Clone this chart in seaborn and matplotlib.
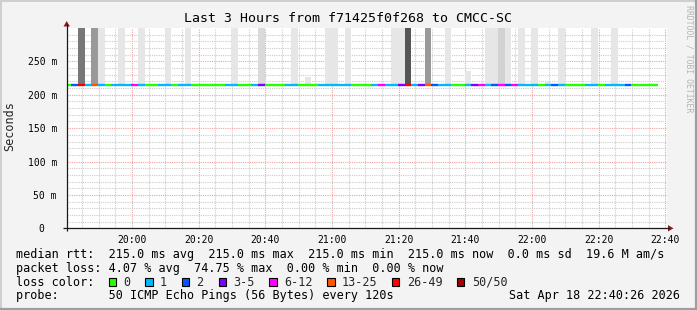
import numpy as np
import pandas as pd
import matplotlib
matplotlib.use("Agg")
import matplotlib.pyplot as plt
import seaborn as sns
from matplotlib.lines import Line2D
from matplotlib.patches import Polygon, Rectangle

# ---------------- data ----------------
title = "Last 3 Hours from f71425f0f268 to CMCC-SC"
y_label = "Seconds"
side_text = "RRDTOOL / TOBI OETIKER"
x_tick_minutes = [20, 40, 60, 80, 100, 120, 140, 160, 180]   # minutes after 19:40
x_tick_labels = ["20:00", "20:20", "20:40", "21:00", "21:20", "21:40", "22:00", "22:20", "22:40"]
y_ticks_ms = [0, 50, 100, 150, 200, 250]
y_tick_labels = ["0  ", "50 m", "100 m", "150 m", "200 m", "250 m"]

view_start_min = 0.43      # 19:40:26
view_span_min = 180.0
step_min = 2.0
first_step_end_min = 1.8

median_rtt_ms = [
    215.0, 215.0, 215.0, 215.0, 215.0, 215.0, 215.0, 215.0, 215.0, 215.0,
    215.0, 215.0, 215.0, 215.0, 215.0, 215.0, 215.0, 215.0, 215.0, 215.0,
    215.0, 215.0, 215.0, 215.0, 215.0, 215.0, 215.0, 215.0, 215.0, 215.0,
    215.0, 215.0, 215.0, 215.0, 215.0, 215.0, 215.0, 215.0, 215.0, 215.0,
    215.0, 215.0, 215.0, 215.0, 215.0, 215.0, 215.0, 215.0, 215.0, 215.0,
    215.0, 215.0, 215.0, 215.0, 215.0, 215.0, 215.0, 215.0, 215.0, 215.0,
    215.0, 215.0, 215.0, 215.0, 215.0, 215.0, 215.0, 215.0, 215.0, 215.0,
    215.0, 215.0, 215.0, 215.0, 215.0, 215.0, 215.0, 215.0, 215.0, 215.0,
    215.0, 215.0, 215.0, 215.0, 215.0, 215.0, 215.0, 215.0, 215.0,
]
# index into loss_labels / loss_colors for every step
loss_bucket = [
    0, 2, 6, 1, 5, 1, 0, 1, 1, 1,
    4, 1, 0, 0, 1, 1, 0, 1, 1, 0,
    0, 0, 0, 0, 1, 1, 0, 0, 1, 3,
    0, 0, 0, 1, 1, 0, 0, 0, 1, 1,
    1, 1, 1, 0, 0, 0, 1, 4, 1, 1,
    3, 6, 1, 3, 5, 2, 1, 1, 0, 0,
    1, 3, 4, 1, 2, 4, 2, 4, 1, 1,
    1, 0, 1, 2, 1, 0, 0, 0, 1, 1,
    0, 1, 1, 1, 2, 0, 0, 0, 0,
]
loss_labels = ["0", "1", "2", "3-5", "6-12", "13-25", "26-49", "50/50"]
loss_colors = ["#26ff00", "#00b8ff", "#0059ff", "#7e00ff", "#ff00ff", "#ff5500", "#ff0000", "#a00000"]

smoke_step = [2, 4, 5, 8, 11, 15, 18, 25, 29, 34, 36, 39, 40, 42, 49, 50, 51, 54,
              57, 60, 63, 64, 65, 66, 68, 70, 72, 74, 79, 82]
smoke_top_ms = [300, 300, 300, 300, 300, 300, 300, 300, 300, 300, 226, 300, 300, 300,
                300, 300, 300, 300, 300, 236, 300, 300, 300, 300, 300, 300, 219, 300,
                300, 300]
smoke_shade = ["#777777", "#999999", "#e6e6e6", "#e6e6e6", "#e6e6e6", "#e6e6e6",
               "#e6e6e6", "#e6e6e6", "#dadada", "#e6e6e6", "#e6e6e6", "#e6e6e6",
               "#e6e6e6", "#e6e6e6", "#e6e6e6", "#e6e6e6", "#555555", "#999999",
               "#e6e6e6", "#e6e6e6", "#e6e6e6", "#e6e6e6", "#d2d2d2", "#e6e6e6",
               "#e6e6e6", "#e6e6e6", "#e6e6e6", "#e6e6e6", "#e6e6e6", "#e6e6e6"]
smoke_floor_ms = 214

legend_rows = [
    "median rtt:  215.0 ms avg  215.0 ms max  215.0 ms min  215.0 ms now  0.0 ms sd  19.6 M am/s",
    "packet loss: 4.07 % avg  74.75 % max  0.00 % min  0.00 % now",
    "loss color:",
    "probe:       50 ICMP Echo Pings (56 Bytes) every 120s",
]
timestamp = "Sat Apr 18 22:40:26 2026"

# ---------------- style ----------------
sns.set_style("white")
plt.rcParams["font.family"] = ["DejaVu Sans Mono", "DejaVu Sans"]
plt.rcParams["lines.solid_capstyle"] = "butt"

W, H = 697, 310
BG = "#f3f3f3"
fig = plt.figure(figsize=(W / 100, H / 100), dpi=100, facecolor=BG)
L, R, T, B = 66.7, 666.7, 28.0, 228.3


def fx(x):
    return x / W


def fy(y):
    return 1 - y / H


ax = fig.add_axes([fx(L), fy(B), (R - L) / W, (B - T) / H])
ax.set_facecolor("white")

# smoke
n = len(median_rtt_ms)
ends = first_step_end_min + step_min * np.arange(n)
starts = np.maximum(ends - step_min, view_start_min)
sm_idx = np.array(smoke_step)
ax.bar(ends[sm_idx] - step_min / 2, np.array(smoke_top_ms) - smoke_floor_ms, width=step_min,
       bottom=smoke_floor_ms, color=smoke_shade, linewidth=0, zorder=1)

# median line coloured by loss
rows = []
for i in range(n):
    rows.append((starts[i], median_rtt_ms[i], i))
    rows.append((ends[i], median_rtt_ms[i], i))
df = pd.DataFrame(rows, columns=["t", "rtt", "seg"])
palette = {i: loss_colors[loss_bucket[i]] for i in range(n)}
sns.lineplot(data=df, x="t", y="rtt", hue="seg", palette=palette, legend=False,
             linewidth=1.7, estimator=None, sort=False, ax=ax, zorder=3)

ax.set_xlim(view_start_min, view_start_min + view_span_min)
ax.set_ylim(0, 300)
ax.set_xticks(x_tick_minutes)
ax.set_xticklabels(x_tick_labels)
ax.set_xticks(np.arange(5, 181, 5), minor=True)
ax.set_yticks(y_ticks_ms)
ax.set_yticklabels(y_tick_labels)
ax.set_yticks(np.arange(10, 300, 10), minor=True)
ax.set_xlabel("")
ax.set_ylabel("")

ax.set_axisbelow(True)
ax.grid(which="major", color="#f2a2a2", linestyle=(0, (1, 1)), linewidth=0.8)
ax.grid(which="minor", color="#cccccc", linestyle=(0, (1, 1)), linewidth=0.8)
for s in ax.spines.values():
    s.set_visible(False)
ax.tick_params(axis="both", which="major", length=3, width=0.8, color="#f2a2a2",
               labelsize=7, labelcolor="black")
ax.tick_params(axis="both", which="minor", length=2, width=0.8, color="#cccccc")
ax.tick_params(axis="x", which="major", pad=1.5)
ax.tick_params(axis="y", which="major", pad=4)

# axis lines and arrows
axis_col = "#1a1a1a"
arrow_col = "#8b1c1c"
fig.add_artist(Line2D([fx(L), fx(L)], [fy(B + 3), fy(24)], color=axis_col, lw=0.9))
fig.add_artist(Line2D([fx(L - 4), fx(669)], [fy(B), fy(B)], color=axis_col, lw=0.9))
fig.add_artist(Polygon([(fx(L - 3.2), fy(26.5)), (fx(L + 3.2), fy(26.5)), (fx(L), fy(21))],
                       closed=True, transform=fig.transFigure, color=arrow_col, lw=0))
fig.add_artist(Polygon([(fx(668), fy(B - 3.2)), (fx(668), fy(B + 3.2)), (fx(673.5), fy(B))],
                       closed=True, transform=fig.transFigure, color=arrow_col, lw=0))

# texts
fig.text(fx(348), fy(19), title, ha="center", va="center", fontsize=9.5, color="black")
fig.text(fx(10), fy(126), y_label, ha="center", va="center", rotation=90, fontsize=8.5)
fig.text(fx(688.5), fy(5), side_text, ha="center", va="top", rotation=270, fontsize=5.9,
         color="#b4b4b4")

row_y = [254.3, 268.3, 282.0, 296.0]
for txt, yy in zip(legend_rows, row_y):
    fig.text(fx(16), fy(yy), txt, ha="left", va="center", fontsize=8.5, color="black")
fig.text(fx(680), fy(row_y[3]), timestamp, ha="right", va="center", fontsize=8.5, color="black")

# loss colour legend boxes
bx = 108.7
box = 7.3
for lab, col in zip(loss_labels, loss_colors):
    fig.add_artist(Rectangle((fx(bx), fy(row_y[2] + box / 2)), box / W, box / H,
                             transform=fig.transFigure, facecolor=col, edgecolor="black",
                             linewidth=0.8))
    fig.text(fx(bx + 14.7), fy(row_y[2]), lab, ha="left", va="center", fontsize=8.5)
    bx += 29.5 + 7.1 * len(lab)

# 3D frame
fig.add_artist(Line2D([fx(0.5), fx(0.5)], [fy(0), fy(H)], color="#cfcfcf", lw=1.4))
fig.add_artist(Line2D([fx(0), fx(W)], [fy(0.5), fy(0.5)], color="#cfcfcf", lw=1.4))
fig.add_artist(Line2D([fx(W - 1), fx(W - 1)], [fy(0), fy(H)], color="#9e9e9e", lw=1.6))
fig.add_artist(Line2D([fx(0), fx(W)], [fy(H - 1), fy(H - 1)], color="#9e9e9e", lw=1.6))

fig.savefig("out.png", dpi=100, facecolor=BG)
